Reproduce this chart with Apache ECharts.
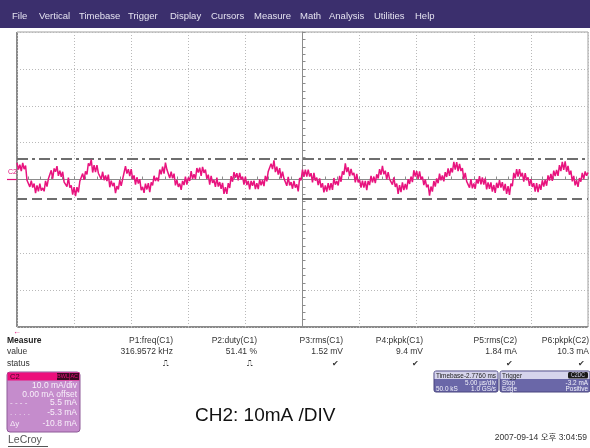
<!DOCTYPE html>
<html>
<head>
<meta charset="utf-8">
<script src="https://cdn.jsdelivr.net/npm/echarts@6/dist/echarts.min.js"></script>
<style>
  html, body { margin: 0; padding: 0; background: #fff; }
  #scope { width: 590px; height: 448px; }
</style>
</head>
<body>
<div id="scope"></div>
<script>
// Channel 2 current trace, mA, one sample every 0.125 µs across the 10 divisions
const sampleStepUs = 0.125;
const traceStartUs = -25;
const traceC2 = [
  4.5, 2.7, 4.0, 2.3, 4.5, 2.8, 3.8, -0.2, 0.1, -2.0,
  -0.3, -2.2, -1.1, -3.7, -1.6, -3.2, -1.1, -3.0, -2.3, -3.2,
  -0.4, -1.9, 0.2, -0.2, 2.5, 0.2, 3.0, 2.1, 3.6, 1.0,
  2.4, 0.7, 2.1, -0.7, -0.2, -1.9, 0.5, -2.2, -1.6, -4.1,
  -2.1, -4.5, -2.1, -3.5, -0.5, -1.0, 1.6, -0.1, 2.2, 1.4,
  4.4, 3.7, 5.4, 1.9, 3.9, 2.0, 3.9, 1.7, 1.9, 0.1,
  2.1, -0.2, 1.1, -0.4, 1.3, -2.1, -0.3, -1.8, -0.9, -3.7,
  -1.8, -2.7, -0.2, -1.7, 0.1, -0.2, 3.6, 1.6, 2.8, 0.9,
  2.8, 0.1, 1.1, -1.4, 0.6, -1.1, 0.1, -2.9, -2.0, -3.6,
  -1.1, -2.7, -1.0, -3.4, -0.8, -1.6, 1.0, -0.4, 0.5, -0.5,
  2.7, 1.4, 3.5, 1.6, 4.6, 2.7, 2.8, 0.4, 2.1, 0.3,
  1.6, -1.6, -0.1, -2.0, -1.1, -2.8, -0.4, -1.5, 0.8, -1.4,
  0.5, -0.4, 2.3, 0.2, 1.4, 0.1, 3.1, 1.9, 3.2, 1.0,
  3.4, 1.8, 2.7, 0.2, 1.3, -1.4, 1.0, -0.9, -0.2, -2.0,
  0.5, -1.9, -0.7, -2.5, -0.9, -3.9, -2.1, -3.9, -1.0, -2.3,
  0.9, -0.6, 2.0, 0.5, 1.7, -0.2, 1.8, 0.0, 0.8, -1.4,
  0.8, -1.5, -0.4, -2.7, -0.4, -1.7, -0.3, -2.6, -1.0, -2.6,
  0.0, -1.6, -0.2, -1.8, 1.0, -0.5, 2.2, 2.1, 4.3, 2.8,
  5.2, 2.0, 3.5, 1.3, 3.1, 0.3, 2.1, 0.3, 0.8, -1.7,
  0.7, -1.6, -0.7, -2.5, -0.4, -2.2, -1.3, -3.2, 0.4, -0.2,
  2.7, 0.7, 2.7, 0.8, 2.7, 0.8, 1.7, -0.8, 1.8, -0.3,
  0.5, -1.5, 0.3, -2.2, -1.0, -3.5, -1.6, -3.3, -1.0, -2.9,
  -1.0, -2.8, 0.4, -1.4, -0.4, -1.6, 1.0, -0.6, 2.2, 1.3,
  4.4, 2.0, 3.3, 0.9, 2.9, 1.2, 1.8, -0.8, 1.5, -0.8,
  -0.1, -2.2, -0.3, -2.2, -0.4, -2.9, -0.4, -1.5, 1.0, -0.8,
  0.8, -1.0, 1.4, 0.3, 2.8, 1.3, 3.7, 1.4, 2.4, 0.0,
  2.0, 0.1, 0.6, -1.4, 0.6, -2.0, -1.1, -3.9, -1.5, -3.4,
  -0.8, -2.9, -1.2, -2.7, 0.1, -1.2, 0.8, -0.7, 2.5, 0.8,
  2.3, 0.1, 2.2, 0.0, 0.8, -1.5, 0.0, -2.1, -1.4, -4.4,
  -1.9, -3.3, -0.4, -1.9, 0.3, -1.0, 1.6, -0.2, 1.1, -0.5,
  2.0, 0.7, 3.0, 1.0, 3.1, 1.9, 4.8, 2.7, 4.7, 2.3,
  4.2, 2.3, 3.1, 0.1, 1.8, -0.5, 0.0, -2.2, 0.1, -2.4,
  -1.1, -2.5, 0.1, -1.1, 0.9, -1.3, 0.6, -1.4, 0.3, -2.7,
  -0.8, -2.5, -0.8, -3.3, -1.5, -3.6, -0.9, -2.3, -0.2, -2.2,
  -0.7, -3.0, -1.2, -3.9, -1.8, -4.2, -1.1, -1.8, 1.8, 0.3,
  2.8, 0.8, 2.8, 0.8, 1.8, -0.6, 1.7, -0.2, 0.6, -1.7,
  0.1, -2.0, -1.0, -3.3, -1.0, -3.4, -1.3, -2.8, -0.2, -1.9,
  -0.1, -1.7, 1.1, -0.3, 1.5, -0.4, 2.4, 0.9, 2.6, 1.0,
  3.9, 2.3, 4.8, 2.6, 4.9, 2.1, 3.7, 1.3, 2.4, -0.5,
  1.0, -1.6, -0.2, -2.0, 0.4, -0.6, 1.8, 0.1, 2.2, 1.0,
  1.9
];

// Horizontal cursors on C2 (mA): upper dash-dot, lower dashed
const cursorUpper = 5.5;
const cursorLower = -5.3;

// Screen axes: 10 mA/div over 8 divisions, 5 µs/div over 10 divisions
const voltDivs = [-40, 40, 10];
const timeDivs = [-25, 25, 5];

const menuItems = ['File', 'Vertical', 'Timebase', 'Trigger', 'Display', 'Cursors',
  'Measure', 'Math', 'Analysis', 'Utilities', 'Help'];
const menuX = [12, 39, 79, 128, 170, 211, 254, 300, 329, 374, 415];

const measureNames = ['P1:freq(C1)', 'P2:duty(C1)', 'P3:rms(C1)', 'P4:pkpk(C1)', 'P5:rms(C2)', 'P6:pkpk(C2)'];
const measureValues = ['316.9572 kHz', '51.41 %', '1.52 mV', '9.4 mV', '1.84 mA', '10.3 mA'];
const measureStatus = ['\u238D', '\u238D', '\u2714', '\u2714', '\u2714', '\u2714'];
const measureRight = [173, 257, 343, 423, 517, 589];

const c2Rows = [
  ['', '10.0 mA/div'],
  ['', '0.00 mA offset'],
  ['- - - -', '5.5 mA'],
  ['. . . . .', '-5.3 mA'],
  ['\u0394y', '-10.8 mA']
];

const FONT = '"Liberation Sans", Arial, "Noto Sans CJK KR", sans-serif';
const GRID = { left: 17, top: 32, width: 571, height: 295 };

function txt(x, y, text, size, fill, align, weight, sx) {
  return {
    type: 'text', x: x, y: y, silent: true, scaleX: sx || 1,
    style: {
      text: text, fill: fill || '#222',
      font: (weight || 'normal') + ' ' + size + 'px ' + FONT,
      textAlign: align || 'left', textVerticalAlign: 'middle'
    }
  };
}
function box(x, y, w, h, fill, stroke, r) {
  return {
    type: 'rect', silent: true,
    shape: { x: x, y: y, width: w, height: h, r: r || 0 },
    style: { fill: fill, stroke: stroke || null, lineWidth: stroke ? 1 : 0 }
  };
}
function seg(x1, y1, x2, y2, color, width) {
  return {
    type: 'line', silent: true,
    shape: { x1: x1, y1: y1, x2: x2, y2: y2 },
    style: { stroke: color, lineWidth: width || 1 }
  };
}

const graphics = [];

// menu bar
graphics.push(box(0, 0, 590, 28, '#3b2f6d'));
menuItems.forEach((m, i) => graphics.push(txt(menuX[i], 16, m, 9.5, '#e4e2f0')));

// heavier left and bottom frame of the screen
graphics.push(seg(GRID.left, GRID.top, GRID.left, GRID.top + GRID.height, '#8a8a8a', 2));
graphics.push(seg(GRID.left, GRID.top + GRID.height, GRID.left + GRID.width, GRID.top + GRID.height, '#8a8a8a', 2));

// C2 ground marker
graphics.push(txt(8, 172, 'C2', 7, '#e0107a'));
graphics.push(seg(7, 179.5, 17, 179.5, '#e0107a', 1.2));

// measure table
graphics.push(txt(13, 332, '\u2190', 8, '#e0107a'));
graphics.push(txt(7, 341, 'Measure', 8.5, '#222', 'left', 'bold'));
graphics.push(txt(7, 352, 'value', 8.5, '#333'));
graphics.push(txt(7, 363.5, 'status', 8.5, '#333'));
measureNames.forEach((n, i) => {
  graphics.push(txt(measureRight[i], 341, n, 8.5, '#333', 'right'));
  graphics.push(txt(measureRight[i], 352, measureValues[i], 8.5, '#333', 'right'));
  graphics.push(txt(measureRight[i] - 4, 363.5, measureStatus[i], 8, '#333', 'right'));
});

// C2 channel descriptor
graphics.push(box(7, 372, 73, 60, '#c58ccc', '#8e5a98', 3));
graphics.push(box(7.5, 372.5, 72, 8, '#ec0f7c'));
graphics.push(txt(10, 376.5, 'C2', 7.5, '#3a0a20'));
graphics.push(box(57, 373, 12, 7, '#3a0a22'));
graphics.push(txt(63, 376.5, 'BWL', 5.5, '#ec0f7c', 'center'));
graphics.push(box(69.5, 373, 9.5, 7, '#3a0a22'));
graphics.push(txt(74.2, 376.5, 'AC', 5.5, '#ec0f7c', 'center'));
const c2RowY = [386, 394.5, 402.5, 413, 423.5];
c2Rows.forEach((r, i) => {
  if (r[0]) graphics.push(txt(10, c2RowY[i], r[0], 8, '#f4eaf6'));
  graphics.push(txt(77, c2RowY[i], r[1], 8.5, '#f8f0fa', 'right'));
});
graphics.push(txt(8, 440.5, 'LeCroy', 10.5, '#555'));
graphics.push(seg(8, 446.5, 48, 446.5, '#555', 1));

// caption
graphics.push(txt(195, 416, 'CH2: 10mA /DIV', 19, '#111'));

// timebase descriptor
const SX = 0.8;
const TB = 8;
graphics.push(box(434, 371, 64, 21, '#6a67a8', '#48457e', 2));
graphics.push(box(434.5, 371.5, 63, 7.5, '#d6d4ec'));
graphics.push(txt(436, 375.3, 'Timebase', TB, '#222', 'left', null, SX));
graphics.push(txt(496, 375.3, '-2.7760 ms', TB, '#222', 'right', null, SX));
graphics.push(txt(496, 382.7, '5.00 \u00b5s/div', TB, '#f2f2fa', 'right', null, SX));
graphics.push(txt(436, 388.5, '50.0 kS', TB, '#f2f2fa', 'left', null, SX));
graphics.push(txt(496, 388.5, '1.0 GS/s', TB, '#f2f2fa', 'right', null, SX));

// trigger descriptor
graphics.push(box(500, 371, 90, 21, '#6a67a8', '#48457e', 2));
graphics.push(box(500.5, 371.5, 89, 7.5, '#d6d4ec'));
graphics.push(txt(502, 375.3, 'Trigger', TB, '#222', 'left', null, SX));
graphics.push(box(568, 372, 20, 6.5, '#1a1a1a', null, 1.5));
graphics.push(txt(578, 375.3, 'C2DC', 6.5, '#d6d4ec', 'center', null, SX));
graphics.push(txt(502, 382.7, 'Stop', TB, '#f2f2fa', 'left', null, SX));
graphics.push(txt(588, 382.7, '-3.2 mA', TB, '#f2f2fa', 'right', null, SX));
graphics.push(txt(502, 388.5, 'Edge', TB, '#f2f2fa', 'left', null, SX));
graphics.push(txt(588, 388.5, 'Positive', TB, '#f2f2fa', 'right', null, SX));

// timestamp
graphics.push(txt(587, 438, '2007-09-14 \uC624\uD6C4 3:04:59', 8.5, '#333', 'right'));

const traceData = traceC2.map((v, i) => [traceStartUs + i * sampleStepUs, v]);

function screenAxis(range) {
  return {
    type: 'value', min: range[0], max: range[1], interval: range[2],
    axisLine: { show: true, onZero: true, lineStyle: { color: '#8c8c8c', width: 1 } },
    axisTick: { show: true, length: 3, inside: true, lineStyle: { color: '#8c8c8c' } },
    minorTick: { show: true, splitNumber: 5, length: 3, lineStyle: { color: '#8c8c8c' } },
    axisLabel: { show: false },
    splitLine: { show: true, lineStyle: { color: '#b9b9b9', type: [1, 2], width: 1 } }
  };
}

const chart = echarts.init(document.getElementById('scope'), null, { renderer: 'canvas' });
chart.setOption({
  backgroundColor: '#ffffff',
  animation: false,
  grid: Object.assign({ show: true, borderColor: '#a0a0a0', borderWidth: 1, backgroundColor: '#fff' }, GRID),
  xAxis: screenAxis(timeDivs),
  yAxis: screenAxis(voltDivs),
  graphic: { elements: graphics },
  series: [{
    type: 'line',
    data: traceData,
    showSymbol: false,
    lineStyle: { color: '#e8137e', width: 1.5 },
    z: 5,
    markLine: {
      silent: true,
      symbol: ['none', 'none'],
      label: { show: false },
      data: [
        { yAxis: cursorUpper, lineStyle: { color: '#6e6e6e', width: 2, type: [11, 4, 3, 4] } },
        { yAxis: cursorLower, lineStyle: { color: '#6e6e6e', width: 2, type: [10, 5] } }
      ]
    }
  }]
});
</script>
</body>
</html>
